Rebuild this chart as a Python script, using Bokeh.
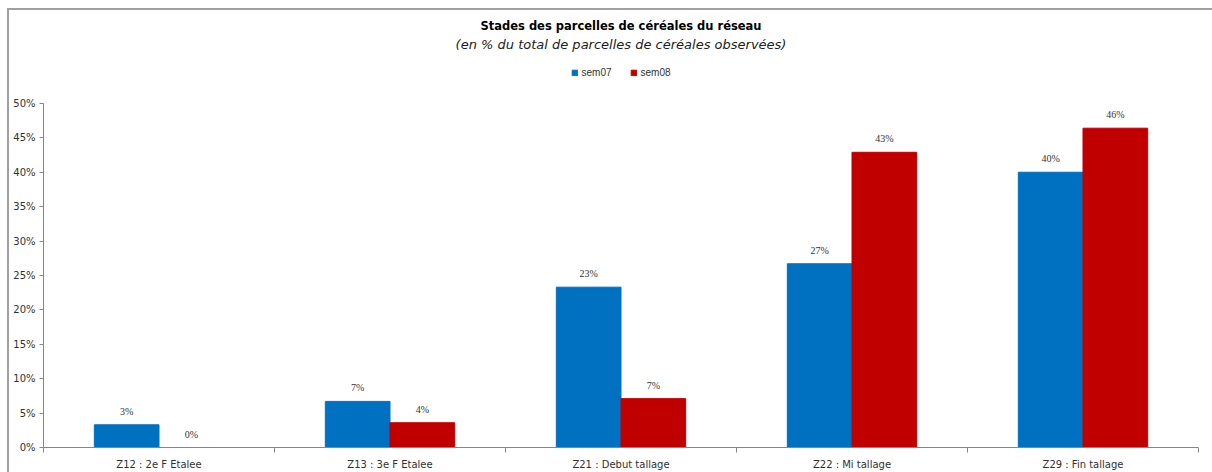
from bokeh.plotting import figure
from bokeh.models import (ColumnDataSource, FixedTicker, PrintfTickFormatter, Legend,
                          LegendItem, LabelSet, Title, Range1d)
from bokeh.transform import dodge
from bokeh.embed import file_html
from bokeh.resources import INLINE

# ---- data ----
categories = ["Z12 : 2e F Etalee", "Z13 : 3e F Etalee", "Z21 : Debut tallage",
              "Z22 : Mi tallage", "Z29 : Fin tallage"]
series_names = ["sem07", "sem08"]
sem07 = [3.3, 6.7, 23.3, 26.7, 40.0]
sem08 = [0.0, 3.6, 7.1, 42.9, 46.4]
y_ticks = [0, 5, 10, 15, 20, 25, 30, 35, 40, 45, 50]
title_text = "Stades des parcelles de céréales du réseau"
subtitle_text = "(en % du total de parcelles de céréales observées)"

BLUE = "#0070C0"
RED = "#C00000"
FONT = "Liberation Sans"
FONT2 = "DejaVu Sans"

xc = [i + 0.5 for i in range(len(categories))]
src = ColumnDataSource(dict(
    x=xc, sem07=sem07, sem08=sem08,
    lab07=[f"{round(v)}%" for v in sem07],
    lab08=[f"{round(v)}%" for v in sem08],
))

p = figure(width=1212, height=472, output_backend="svg", toolbar_location=None,
           x_range=Range1d(0, len(categories)), y_range=Range1d(0, 57.4),
           title=None, min_border_left=43, min_border_right=14,
           min_border_bottom=0, min_border_top=52,
           border_fill_color=None, background_fill_color="white")
p.styles = {
    "background-color": "white",
    "background-image": "linear-gradient(#a0a0a0,#a0a0a0), linear-gradient(#a0a0a0,#a0a0a0)",
    "background-size": "1205px 2px, 2px 464px",
    "background-position": "7px 8px, 7px 8px",
    "background-repeat": "no-repeat",
}

r07 = p.vbar(x=dodge("x", -0.14, range=p.x_range), top="sem07", width=0.28,
             source=src, fill_color=BLUE, line_color=BLUE)
r08 = p.vbar(x=dodge("x", 0.14, range=p.x_range), top="sem08", width=0.28,
             source=src, fill_color=RED, line_color=RED)

for col, ycol, off in (("lab07", "sem07", -0.14), ("lab08", "sem08", 0.14)):
    ls = LabelSet(x=dodge("x", off, range=p.x_range), y=ycol,
                  text=col, source=src, text_align="center", text_baseline="bottom",
                  y_offset=8, text_font=FONT2, text_font_size="10px", text_color="#333333")
    p.add_layout(ls)

# axes
p.xgrid.grid_line_color = None
p.ygrid.grid_line_color = None
p.outline_line_color = None

xa = p.xaxis[0]
xa.ticker = FixedTicker(ticks=xc, minor_ticks=list(range(len(categories) + 1)))
xa.major_label_overrides = {x: c for x, c in zip(xc, categories)}
xa.major_tick_out = 0
xa.major_tick_in = 0
xa.minor_tick_out = 5
xa.minor_tick_in = 0
xa.minor_tick_line_color = "#868686"
xa.axis_line_color = "#868686"
xa.major_label_standoff = 6
xa.major_label_text_font = FONT2
xa.major_label_text_font_size = "10px"
xa.major_label_text_color = "#303030"

ya = p.yaxis[0]
ya.ticker = FixedTicker(ticks=y_ticks)
ya.bounds = (0, 50)
ya.formatter = PrintfTickFormatter(format="%d%%")
ya.major_tick_out = 4
ya.major_tick_in = 0
ya.minor_tick_out = 0
ya.minor_tick_in = 0
ya.axis_line_color = "#868686"
ya.major_tick_line_color = "#868686"
ya.major_label_standoff = 4
ya.major_label_text_font = FONT2
ya.major_label_text_font_size = "10px"
ya.major_label_text_color = "#303030"

legend = Legend(items=[LegendItem(label=series_names[0], renderers=[r07]),
                       LegendItem(label=series_names[1], renderers=[r08])],
                orientation="horizontal", location="top_center",
                glyph_width=7, glyph_height=7, label_standoff=4, spacing=18,
                label_text_font=FONT, label_text_font_size="10px",
                label_text_color="#303030", border_line_color=None,
                background_fill_alpha=0, padding=2, margin=15)
p.add_layout(legend)

p.add_layout(Title(text=subtitle_text, align="center", text_font=FONT2,
                   text_font_size="13px", text_font_style="italic",
                   text_color="#202020", standoff=2), "above")
p.add_layout(Title(text=title_text, align="center", text_font=FONT2,
                   text_font_size="11.5px", text_font_style="bold",
                   text_color="#000000", standoff=2), "above")

open("out.html", "w").write(file_html(p, INLINE))
